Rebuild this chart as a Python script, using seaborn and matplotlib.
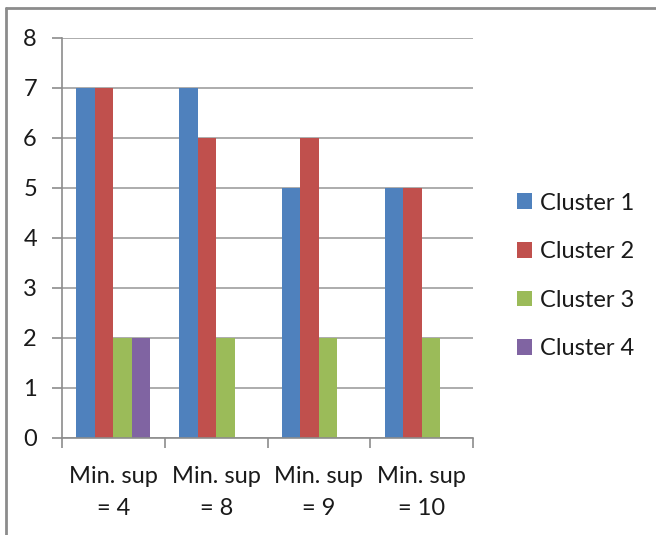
import matplotlib
matplotlib.use("Agg")
import matplotlib.pyplot as plt
from matplotlib.lines import Line2D
from matplotlib.patches import Patch
import numpy as np
import pandas as pd
import seaborn as sns

# Chart data
categories = ["Min. sup\n= 4", "Min. sup\n= 8", "Min. sup\n= 9", "Min. sup\n= 10"]
series_names = ["Cluster 1", "Cluster 2", "Cluster 3", "Cluster 4"]
cluster1 = [7, 7, 5, 5]
cluster2 = [7, 6, 6, 5]
cluster3 = [2, 2, 2, 2]
cluster4 = [2, np.nan, np.nan, np.nan]
y_ticks = [0, 1, 2, 3, 4, 5, 6, 7, 8]

palette = ["#4F81BD", "#C0504D", "#9BBB59", "#8064A2"]

rows = []
for name, vals in zip(series_names, [cluster1, cluster2, cluster3, cluster4]):
    for cat, v in zip(categories, vals):
        rows.append({"category": cat, "series": name, "value": v})
df = pd.DataFrame(rows)

sns.set_theme(style="white")
plt.rcParams["font.family"] = ["Lato", "DejaVu Sans"]

FS = 17
TXT = "#1A1A1A"

fig = plt.figure(figsize=(6.56, 5.35), dpi=100)
ax = fig.add_axes([62 / 656, 1 - 438 / 535, (473 - 62) / 656, (438 - 38) / 535])

sns.barplot(data=df, x="category", y="value", hue="series", order=categories,
            hue_order=series_names, palette=palette, width=0.72, gap=0,
            saturation=1, errorbar=None, ax=ax, legend=False, linewidth=0)

ax.set_xlim(-0.5, len(categories) - 0.5)
ax.set_ylim(0, 8)
ax.set_yticks(y_ticks)
ax.set_yticklabels([str(t) for t in y_ticks])
ax.yaxis.grid(True, color="#A6A6A6", linewidth=1.3)
ax.set_axisbelow(True)
ax.set_xlabel("")
ax.set_ylabel("")

for s in ["top", "right"]:
    ax.spines[s].set_visible(False)
for s in ["left", "bottom"]:
    ax.spines[s].set_color("#8C8C8C")
    ax.spines[s].set_linewidth(1.2)

# Category boundaries get tick marks; labels sit at category centres
ax.set_xticks(np.arange(len(categories) + 1) - 0.5, minor=True)
ax.tick_params(axis="x", which="minor", length=7, width=1.2, color="#8C8C8C", bottom=True)
ax.tick_params(axis="x", which="major", length=0, pad=20, labelsize=FS, labelcolor=TXT)
ax.tick_params(axis="y", which="major", length=7, width=1.2, color="#8C8C8C", left=True,
               pad=11, labelsize=FS, labelcolor=TXT)
for lbl in ax.get_xticklabels():
    lbl.set_linespacing(1.66)

handles = [Patch(facecolor=c, edgecolor="none") for c in palette]
fig.legend(handles, series_names, loc="center left", bbox_to_anchor=(496 / 656, 1 - 276 / 535),
           frameon=False, fontsize=FS, labelspacing=1.17, handlelength=0.64, handleheight=0.64,
           handletextpad=0.34, labelcolor=TXT)

# Outer frame
fig.add_artist(Line2D([6 / 656, 1], [1 - 8 / 535, 1 - 8 / 535], color="#8C8C8C", linewidth=2,
                      transform=fig.transFigure))
fig.add_artist(Line2D([6 / 656, 6 / 656], [0, 1 - 8 / 535], color="#8C8C8C", linewidth=2,
                      transform=fig.transFigure))

fig.savefig("out.png", dpi=100)
